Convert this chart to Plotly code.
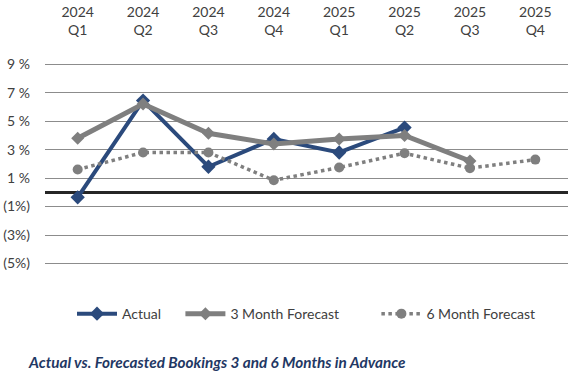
import plotly.graph_objects as go

categories = ["2024<br>Q1", "2024<br>Q2", "2024<br>Q3", "2024<br>Q4",
              "2025<br>Q1", "2025<br>Q2", "2025<br>Q3", "2025<br>Q4"]
actual = [-0.35, 6.45, 1.8, 3.75, 2.8, 4.55, None, None]
forecast_3m = [3.8, 6.2, 4.15, 3.4, 3.75, 4.0, 2.2, None]
forecast_6m = [1.6, 2.8, 2.8, 0.85, 1.75, 2.75, 1.7, 2.3]
series_names = ["Actual", "3 Month Forecast", "6 Month Forecast"]

y_tickvals = [9, 7, 5, 3, 1, -1, -3, -5]
y_ticktext = ["9 %", "7 %", "5 %", "3 %", "1 %", "(1%)", "(3%)", "(5%)"]

NAVY = "#2B4A7C"
GRAY = "#7F7F7F"
FONT = "Lato, 'Open Sans', sans-serif"
NB = "\u00a0"

fig = go.Figure()
fig.add_trace(go.Scatter(
    x=categories, y=actual, name=series_names[0] + NB * 4, mode="lines+markers",
    line=dict(color=NAVY, width=4),
    marker=dict(symbol="diamond", size=11, color=NAVY),
))
fig.add_trace(go.Scatter(
    x=categories, y=forecast_3m, name=series_names[1] + NB * 9, mode="lines+markers",
    line=dict(color=GRAY, width=5),
    marker=dict(symbol="diamond", size=10, color=GRAY),
))
fig.add_trace(go.Scatter(
    x=categories, y=forecast_6m, name=series_names[2], mode="lines+markers",
    line=dict(color=GRAY, width=3.5, dash="dot"),
    marker=dict(symbol="circle", size=10, color=GRAY),
))

fig.update_layout(
    width=577, height=373,
    margin=dict(l=45, r=9, t=50, b=81),
    paper_bgcolor="white", plot_bgcolor="white",
    font=dict(family=FONT, size=14, color="#404040"),
    showlegend=True,
    legend=dict(orientation="h", x=0.5, xanchor="center", y=-0.025, yanchor="top",
                font=dict(size=14, color="#404040"), itemwidth=40,
                traceorder="normal"),
    xaxis=dict(side="top", type="category", range=[-0.5, 7.5], automargin=False,
               showgrid=False, showline=False, ticks="", zeroline=False,
               ticklabelstandoff=11,
               tickfont=dict(size=14, color="#404040")),
    yaxis=dict(range=[-7, 10], tickvals=y_tickvals, ticktext=y_ticktext,
               automargin=False,
               showgrid=True, gridcolor="#8C8C8C", gridwidth=1,
               zeroline=True, zerolinecolor="#262626", zerolinewidth=2.5,
               showline=False, ticks="", ticklabelstandoff=14,
               tickfont=dict(size=14, color="#404040")),
    annotations=[dict(
        text="<b><i>Actual vs. Forecasted Bookings 3 and 6 Months in Advance</i></b>",
        xref="paper", yref="paper", x=-45/523, y=-(362-292)/242,
        xanchor="left", yanchor="middle", showarrow=False,
        xshift=26, font=dict(family=FONT, size=15.3, color="#1F3864"))],
)

fig.write_html("out.html", config={"displayModeBar": False},
               post_script="document.body.style.margin='0';")
